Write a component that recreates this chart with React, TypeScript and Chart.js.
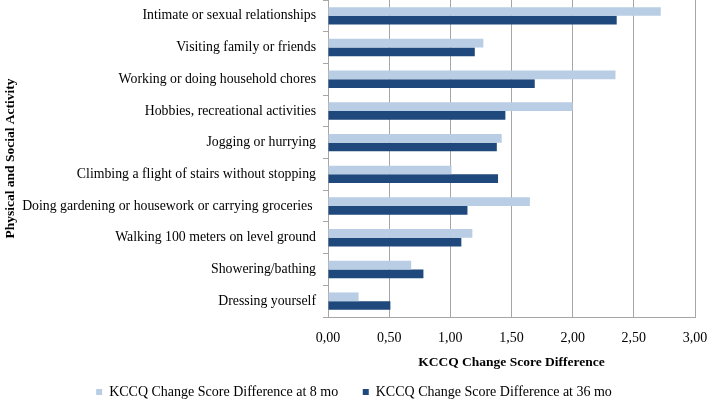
import React, { useEffect, useRef } from "react";
import { Chart, registerables } from "chart.js";

Chart.register(...registerables);

const categories = [
  "Intimate or sexual relationships",
  "Visiting family or friends",
  "Working or doing household chores",
  "Hobbies, recreational activities",
  "Jogging or hurrying",
  "Climbing a flight of stairs without stopping",
  "Doing gardening or housework or carrying groceries ",
  "Walking 100 meters on level ground",
  "Showering/bathing",
  "Dressing yourself",
];

const values8mo = [2.72, 1.27, 2.35, 2.0, 1.42, 1.01, 1.65, 1.18, 0.68, 0.25];
const values36mo = [2.36, 1.2, 1.69, 1.45, 1.38, 1.39, 1.14, 1.09, 0.78, 0.51];

const seriesLabels = [
  "KCCQ Change Score Difference at 8 mo",
  "KCCQ Change Score Difference at 36 mo",
];

const xTicks = [0, 0.5, 1, 1.5, 2, 2.5, 3];

const xTitle = "KCCQ Change Score Difference";
const yTitle = "Physical and Social Activity";

const FONT = "'Liberation Serif', 'Times New Roman', serif";

export default function App() {
  const ref = useRef<HTMLCanvasElement | null>(null);

  useEffect(() => {
    document.body.style.margin = "0";
    if (!ref.current) return;
    const chart = new Chart(ref.current, {
      type: "bar",
      data: {
        labels: categories,
        datasets: [
          {
            label: seriesLabels[0],
            data: values8mo,
            backgroundColor: "#b9cde5",
            categoryPercentage: 0.55,
            barPercentage: 1.0,
          },
          {
            label: seriesLabels[1],
            data: values36mo,
            backgroundColor: "#1f497d",
            categoryPercentage: 0.55,
            barPercentage: 1.0,
          },
        ],
      },
      options: {
        indexAxis: "y",
        animation: false,
        responsive: false,
        maintainAspectRatio: false,
        layout: { padding: { left: 0, right: 0, top: 0, bottom: -7 } },
        plugins: {
          tooltip: { enabled: false },
          legend: {
            position: "bottom",
            labels: {
              font: { family: FONT, size: 14 },
              color: "#000",
              boxWidth: 6,
              boxHeight: 6,
              padding: 14,
              generateLabels: (c: any) => {
                const items = Chart.defaults.plugins.legend.labels.generateLabels(c);
                return items.map((it: any, i: number) => ({
                  ...it,
                  text: i === 0 ? it.text + "   " : it.text,
                  lineWidth: 0,
                }));
              },
            },
          },
        },
        scales: {
          x: {
            min: xTicks[0],
            max: xTicks[xTicks.length - 1],
            afterBuildTicks: (scale: any) => {
              scale.ticks = xTicks.map((v) => ({ value: v }));
            },
            afterFit: (scale: any) => {
              scale.paddingLeft = 13;
              scale.paddingRight = 13;
              scale.height = 54;
            },
            ticks: {
              color: "#000",
              font: { family: FONT, size: 14 },
              padding: 13,
              callback: (v: any) => Number(v).toFixed(2).replace(".", ","),
            },
            grid: { color: "#a6a6a6", drawTicks: false, lineWidth: 1 },
            border: { display: true, color: "#a6a6a6" },
            title: {
              display: true,
              text: xTitle,
              color: "#000",
              font: { family: FONT, size: 13.5, weight: "bold" },
              padding: { top: 7, bottom: 0 },
            },
          },
          y: {
            afterFit: (scale: any) => {
              scale.paddingTop = 0;
              scale.paddingBottom = 0;
              scale.width = 328;
            },
            ticks: {
              color: "#000",
              font: { family: FONT, size: 13.8 },
              padding: 7,
            },
            grid: {
              offset: true,
              drawOnChartArea: false,
              drawTicks: true,
              tickLength: 5,
              color: "#a6a6a6",
            },
            border: { display: true, color: "#a6a6a6" },
            title: {
              display: true,
              text: yTitle,
              color: "#000",
              font: { family: FONT, size: 13.5, weight: "bold" },
              padding: { top: 2, bottom: 0 },
            },
          },
        },
      },
    });
    return () => chart.destroy();
  }, []);

  return (
    <div style={{ width: 708, height: 402, overflow: "hidden" }}>
      <canvas ref={ref} width={708} height={402} />
    </div>
  );
}
